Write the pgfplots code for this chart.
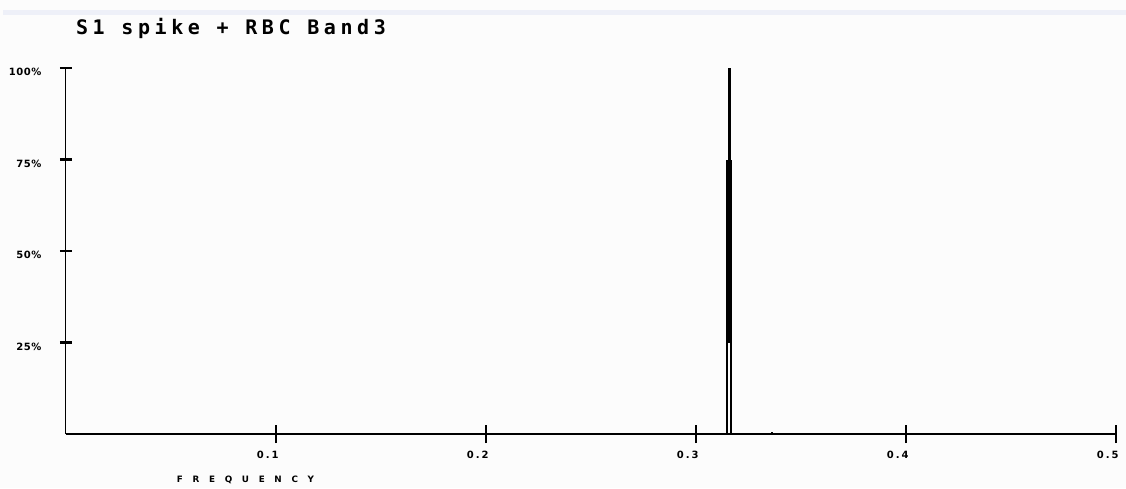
\documentclass[border=0pt]{standalone}
\usepackage{fontspec}
\usepackage{pgfplots}
\pgfplotsset{compat=1.18}
\newfontfamily\titlefont{DejaVu Sans Mono}[LetterSpace=23]
\newfontfamily\xlblfont{DejaVu Sans}[LetterSpace=20]
\newfontfamily\ylblfont{DejaVu Sans}[LetterSpace=5]
\newfontfamily\freqfont{DejaVu Sans}[LetterSpace=110]
\definecolor{bgcol}{RGB}{252,252,252}
\definecolor{bandcol}{RGB}{238,240,248}
\begin{document}
\begin{tikzpicture}
\fill[bgcol] (-33pt,-27pt) rectangle (530pt,217pt);
\fill[bandcol] (-31.5pt,212pt) rectangle (530pt,209.5pt);
\begin{axis}[
  at={(0,0)}, anchor=south west,
  scale only axis, width=525pt, height=183pt,
  xmin=0, xmax=0.5, ymin=0, ymax=100,
  axis lines=left, axis line style={-, black},
  x axis line style={line width=1pt},
  y axis line style={line width=0.5pt},
  tick align=center,
  xtick={0.1,0.2,0.3,0.4,0.5},
  xticklabels={0.1,0.2,0.3,0.4,0.5},
  ytick={25,50,75,100},
  yticklabels={25\%,50\%,75\%,100\%},
  xtick style={black, line width=1.2pt, /pgfplots/major tick length=9pt},
  ytick style={black, line width=1.1pt, /pgfplots/major tick length=6pt},
  xticklabel style={font=\xlblfont\bfseries\fontsize{5}{6}\selectfont, anchor=north east, inner sep=0pt, xshift=1.5pt, yshift=-6pt},
  yticklabel style={font=\ylblfont\bfseries\fontsize{5}{6}\selectfont, anchor=east, inner sep=0pt, xshift=-10pt, yshift=-2pt},
  clip=false,
]
\addplot[ycomb, line width=1pt, mark=none, black] coordinates {(0.31476,75) (0.31667,75)};
\addplot[line width=1.5pt, mark=none, black] coordinates {(0.31595,25) (0.31595,100)};
\addplot[ycomb, line width=0.75pt, mark=none, black] coordinates {(0.33619,0.6)};
\end{axis}
\node[font=\titlefont\bfseries\fontsize{10}{11}\selectfont, inner sep=0pt] at (82.5pt,203pt) {S1 spike + RBC Band3};
\node[font=\freqfont\bfseries\fontsize{4.4}{5}\selectfont, inner sep=0pt] at (89.75pt,-23pt) {FREQUENCY};
\end{tikzpicture}
\end{document}
